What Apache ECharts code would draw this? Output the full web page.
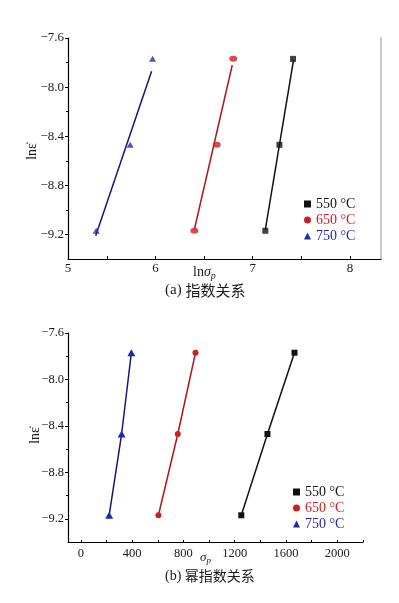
<!DOCTYPE html>
<html><head><meta charset="utf-8">
<script src="https://cdn.jsdelivr.net/npm/echarts@6/dist/echarts.min.js"></script>
<style>html,body{margin:0;padding:0;background:#fff}#c{width:399px;height:603px}</style>
</head><body><div id="c"></div>
<script>
// ---- data ----
var tempNames = ['550 °C', '650 °C', '750 °C'];
var lnRate = [-9.17, -8.47, -7.77];
// (a) ln(sigma_p)
var lnSigma550 = [7.13, 7.275, 7.415];
var lnSigma650 = [6.40, 6.63, 6.80];
var lnSigma750 = [5.39, 5.74, 5.97];
// fitted lines in (a): endpoints
var fit550X = [7.13, 7.42], fit550Y = [-9.16, -7.78];
var fit650X = [6.40, 6.79], fit650Y = [-9.16, -7.82];
var fit750X = [5.385, 5.96], fit750Y = [-9.21, -7.87];
// (b) sigma_p
var sigma550 = [1251, 1455, 1666];
var sigma650 = [605, 756, 894];
var sigma750 = [221, 318, 394];
// tick labels
var yLabels = [-9.2, -8.8, -8.4, -8.0, -7.6];
var yMinor = [-9.0, -8.6, -8.2, -7.8];
var xLabelsA = [5.1, 6, 7, 8];
var xTicksA = [5.5, 6, 6.5, 7, 7.5, 8];
var xLabelsB = [0, 400, 800, 1200, 1600, 2000];
var xTicksB = [0, 200, 400, 600, 800, 1000, 1200, 1400, 1600, 1800, 2000, 2200];

var colors = ['#111111', '#cc1f24', '#1f2aa8'];
var lineColors = ['#111111', '#b0161c', '#15157a'];
var symbols = ['rect', 'circle', 'triangle'];
var serif = 'Liberation Serif';

function zip(xs, ys) { return xs.map(function (x, i) { return [x, ys[i]]; }); }
function fmtY(v) { return (v < 0 ? '\u2212' : '') + Math.abs(v).toFixed(1); }

var chart = echarts.init(document.getElementById('c'), null, { renderer: 'canvas' });

function yAxesFor(grid, fs, withRight) {
  var axes = [
    { gridIndex: grid, type: 'value', min: -9.4, max: -7.6, position: 'left',
      axisLine: { show: true, onZero: false, lineStyle: { color: '#000', width: 1.2 } },
      axisTick: { show: true, inside: false, length: 3, customValues: yLabels, lineStyle: { color: '#000' } },
      axisLabel: { show: true, customValues: yLabels, formatter: fmtY, margin: 4,
        fontFamily: serif, fontSize: fs, color: '#1a1a1a' },
      splitLine: { show: false } },
    { gridIndex: grid, type: 'value', min: -9.4, max: -7.6, position: 'left',
      axisLine: { show: false, onZero: false },
      axisTick: { show: true, inside: false, length: 2, customValues: yMinor, lineStyle: { color: '#000' } },
      axisLabel: { show: false }, splitLine: { show: false } }
  ];
  if (withRight) {
    axes.push({ gridIndex: grid, type: 'value', min: -9.4, max: -7.6, position: 'right',
      axisLine: { show: true, onZero: false, lineStyle: { color: '#c8c8c8', width: 2 } },
      axisTick: { show: false }, axisLabel: { show: false }, splitLine: { show: false } });
  }
  return axes;
}

var yAxes = yAxesFor(0, 13, true).concat(yAxesFor(1, 12.5, false));

var xAxes = [
  { gridIndex: 0, type: 'value', min: 5.1, max: 8.32,
    axisLine: { show: true, onZero: false, lineStyle: { color: '#000', width: 1.2 } },
    axisTick: { show: true, inside: true, length: 3, customValues: xTicksA, lineStyle: { color: '#000' } },
    axisLabel: { show: true, customValues: xLabelsA, formatter: function (v) { return String(Math.round(v)); },
      margin: 3, fontFamily: serif, fontSize: 13, color: '#1a1a1a' },
    splitLine: { show: false } },
  { gridIndex: 1, type: 'value', min: -100, max: 2200,
    axisLine: { show: true, onZero: false, lineStyle: { color: '#000', width: 1.2 } },
    axisTick: { show: true, inside: true, length: 2, customValues: xTicksB, lineStyle: { color: '#000' } },
    axisLabel: { show: true, customValues: xLabelsB, formatter: function (v) { return String(v); }, margin: 5,
      fontFamily: serif, fontSize: 12.5, color: '#1a1a1a' },
    splitLine: { show: false } }
];

var series = [];
var ptsA = [lnSigma550, lnSigma650, lnSigma750];
var fitsA = [[fit550X, fit550Y], [fit650X, fit650Y], [fit750X, fit750Y]];
var ptsB = [sigma550, sigma650, sigma750];
var symSizeA = [6, [8, 6], [7, 6]];
var symSizeB = [6, 6, [8, 7]];
for (var i = 0; i < 3; i++) {
  series.push({ name: tempNames[i], type: 'line', xAxisIndex: 0, yAxisIndex: 0,
    data: zip(fitsA[i][0], fitsA[i][1]), showSymbol: false, symbol: 'none',
    lineStyle: { color: lineColors[i], width: 1.5 }, silent: true, legendHoverLink: false,
    itemStyle: { color: colors[i] }, z: 2 });
  series.push({ name: tempNames[i], type: 'scatter', xAxisIndex: 0, yAxisIndex: 0,
    data: zip(ptsA[i], lnRate), symbol: symbols[i], symbolSize: symSizeA[i],
    itemStyle: { color: colors[i] }, z: 3 });
  series.push({ name: tempNames[i] + ' ', type: 'line', xAxisIndex: 1, yAxisIndex: 3,
    data: zip(ptsB[i], lnRate), symbol: symbols[i], symbolSize: symSizeB[i], showSymbol: true,
    lineStyle: { color: lineColors[i], width: 1.5 }, itemStyle: { color: colors[i] }, z: 3 });
}

function legendData(suffix) {
  return tempNames.map(function (n, i) {
    return { name: n + suffix, icon: symbols[i], itemStyle: { color: colors[i] },
      textStyle: { color: colors[i] } };
  });
}

var option = {
  animation: false,
  backgroundColor: '#fff',
  grid: [
    { left: 68, top: 38, width: 313, height: 221, containLabel: false },
    { left: 68, top: 333, width: 295, height: 209, containLabel: false }
  ],
  xAxis: xAxes,
  yAxis: yAxes,
  legend: [
    { orient: 'vertical', left: 304, top: 196, itemWidth: 7, itemHeight: 7, itemGap: 0,
      data: legendData(''), textStyle: { fontFamily: serif, fontSize: 14, lineHeight: 16 }, padding: 0, selectedMode: false },
    { orient: 'vertical', left: 293, top: 484, itemWidth: 7, itemHeight: 7, itemGap: 0,
      data: legendData(' '), textStyle: { fontFamily: serif, fontSize: 14, lineHeight: 16 }, padding: 0, selectedMode: false }
  ],
  series: series,
  graphic: [
    { type: 'text', left: 33 - 8, top: 157 - 14, rotation: Math.PI / 2,
      style: { text: 'ln\u03B5\u0307', font: '14px "Liberation Serif"', fill: '#1a1a1a' } },
    { type: 'text', left: 36 - 8, top: 441 - 14, rotation: Math.PI / 2,
      style: { text: 'ln\u03B5\u0307', font: '14px "Liberation Serif"', fill: '#1a1a1a' } },
    { type: 'text', left: 193, top: 265,
      style: { text: '{a|ln}{b|\u03C3}{c|p}',
        rich: { a: { fontFamily: serif, fontSize: 14, fill: '#1a1a1a' },
                b: { fontFamily: serif, fontSize: 14, fontStyle: 'italic', fill: '#1a1a1a' },
                c: { fontFamily: serif, fontSize: 10, fontStyle: 'italic', fill: '#1a1a1a', padding: [8, 0, 0, 0] } } } },
    { type: 'text', left: 165, top: 283,
      style: { text: '{a|(a) }{b|指数关系}',
        rich: { a: { fontFamily: serif, fontSize: 15, fill: '#1a1a1a' },
                b: { fontFamily: 'Noto Sans CJK SC', fontSize: 15, fill: '#1a1a1a' } } } },
    { type: 'text', left: 200, top: 551,
      style: { text: '{b|\u03C3}{c|p}',
        rich: { b: { fontFamily: serif, fontSize: 13, fontStyle: 'italic', fill: '#1a1a1a' },
                c: { fontFamily: serif, fontSize: 9, fontStyle: 'italic', fill: '#1a1a1a', padding: [7, 0, 0, 0] } } } },
    { type: 'text', left: 165, top: 569,
      style: { text: '{a|(b) }{b|幂指数关系}',
        rich: { a: { fontFamily: serif, fontSize: 14, fill: '#1a1a1a' },
                b: { fontFamily: 'Noto Sans CJK SC', fontSize: 14, fill: '#1a1a1a' } } } }
  ]
};
chart.setOption(option);
</script>
</body></html>
